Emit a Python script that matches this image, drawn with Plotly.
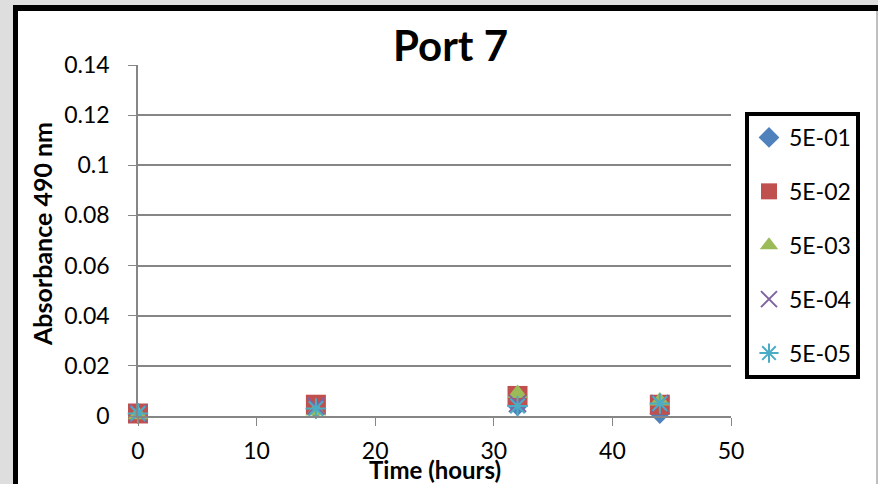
import plotly.graph_objects as go

# Sampling times (hours)
hours = [0, 15, 32, 44]

# Absorbance at 490 nm per dilution
series_names = ["5E-01", "5E-02", "5E-03", "5E-04", "5E-05"]
abs_5e01 = [0.001, 0.003, 0.004, 0.001]
abs_5e02 = [0.001, 0.0045, 0.008, 0.0045]
abs_5e03 = [0.0005, 0.002, 0.009, 0.006]
abs_5e04 = [0.001, 0.004, 0.005, 0.005]
abs_5e05 = [0.001, 0.003, 0.004, 0.005]
series_values = [abs_5e01, abs_5e02, abs_5e03, abs_5e04, abs_5e05]

x_ticks = [0, 10, 20, 30, 40, 50]
y_ticks = [0, 0.02, 0.04, 0.06, 0.08, 0.1, 0.12, 0.14]
y_tick_text = ["0", "0.02", "0.04", "0.06", "0.08", "0.1", "0.12", "0.14"]

styles = [
    dict(symbol="diamond", color="#4F81BD", size=16, line=dict(width=0)),
    dict(symbol="square", color="#C0504D", size=20, line=dict(width=0)),
    dict(symbol="triangle-up", color="#9BBB59", size=18, line=dict(width=0)),
    dict(symbol="x-thin-open", color="#8064A2", size=17, line=dict(width=2, color="#8064A2")),
    dict(symbol="asterisk-open", color="#4BACC6", size=17, line=dict(width=2, color="#4BACC6")),
]

FONT = "Lato, 'Open Sans', sans-serif"

fig = go.Figure()
for i, (name, vals, st) in enumerate(zip(series_names, series_values, styles)):
    fig.add_trace(go.Scatter(
        x=hours, y=vals, mode="markers", name=name,
        legendgroup=f"g{i}", cliponaxis=False,
        marker=st,
    ))

W, H = 878, 484
L, R, T, B = 138, 731, 65, 416


def px(x):
    return (x - L) / (R - L)


def py(y):
    return (B - y) / (B - T)


shapes = [
    # outer frame strips
    dict(type="rect", xref="paper", yref="paper", x0=px(0), x1=px(13), y0=py(484), y1=py(0),
         fillcolor="#DEDEDE", line=dict(width=0), layer="below"),
    dict(type="rect", xref="paper", yref="paper", x0=px(0), x1=px(878), y0=py(5), y1=py(0),
         fillcolor="#DEDEDE", line=dict(width=0), layer="below"),
    dict(type="rect", xref="paper", yref="paper", x0=px(13), x1=px(18), y0=py(484), y1=py(6),
         fillcolor="black", line=dict(width=0)),
    dict(type="rect", xref="paper", yref="paper", x0=px(13), x1=px(878), y0=py(11), y1=py(5),
         fillcolor="black", line=dict(width=0)),
    dict(type="line", xref="paper", yref="paper", x0=px(877), x1=px(877), y0=py(484), y1=py(11),
         line=dict(color="#7F7F7F", width=1)),
]

fig.update_layout(
    width=W, height=H,
    margin=dict(l=L, r=W - R, t=T, b=H - B),
    paper_bgcolor="white", plot_bgcolor="white",
    font=dict(family=FONT, size=23, color="black"),
    showlegend=True,
    legend=dict(
        x=px(745), y=py(112), xanchor="left", yanchor="top",
        bordercolor="black", borderwidth=4, bgcolor="white",
        font=dict(size=23, family=FONT),
        tracegroupgap=21, traceorder="grouped",
        itemwidth=30,
    ),
    xaxis=dict(
        range=[0, 50], tickvals=x_ticks, ticks="outside", ticklen=8,
        tickcolor="#868686", showline=True, linecolor="#868686", linewidth=1.5,
        showgrid=False, zeroline=False, tickfont=dict(size=23), fixedrange=True,
        ticklabelstandoff=6,
    ),
    yaxis=dict(
        range=[0, 0.14], tickvals=y_ticks, ticktext=y_tick_text, ticks="outside", ticklen=8,
        tickcolor="#868686", showline=True, linecolor="#868686", linewidth=1.5,
        showgrid=True, gridcolor="#868686", gridwidth=1.5, zeroline=False,
        tickfont=dict(size=23), fixedrange=True, ticklabelstandoff=14,
    ),
    shapes=shapes,
    annotations=[
        dict(text="<b>Port 7</b>", xref="paper", yref="paper", x=px(450), y=py(45),
             xanchor="center", yanchor="middle",
             showarrow=False, font=dict(size=42, family=FONT)),
        dict(text="<b>Time (hours)</b>", xref="paper", yref="paper", x=px(435), y=py(469),
             xanchor="center", yanchor="middle",
             showarrow=False, font=dict(size=24, family=FONT)),
        dict(text="<b>Absorbance 490 nm</b>", xref="paper", yref="paper", x=px(42), y=py(234),
             xanchor="center", yanchor="middle",
             showarrow=False, textangle=-90, font=dict(size=25, family=FONT)),
    ],
)

fig.write_html("out.html")
